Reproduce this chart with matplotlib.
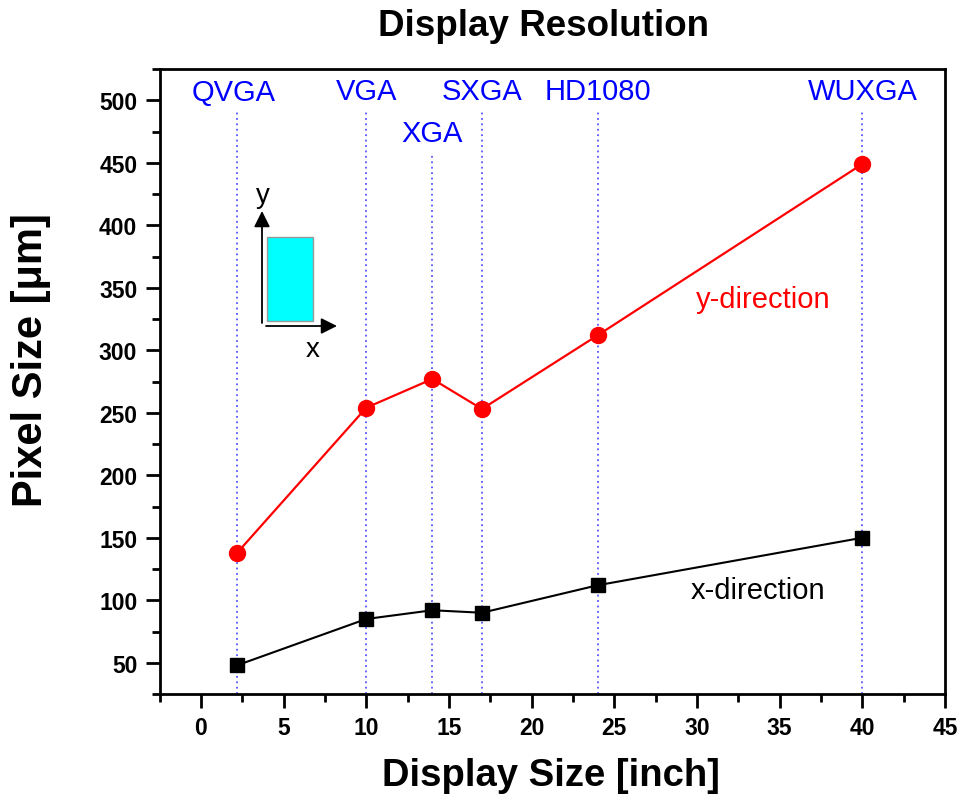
import matplotlib
matplotlib.use("Agg")
import matplotlib.pyplot as plt
from matplotlib.patches import Rectangle
from matplotlib.ticker import MultipleLocator

plt.rcParams['font.family'] = ['Liberation Sans', 'DejaVu Sans']

# Display formats and their typical diagonal sizes
formats = ["QVGA", "VGA", "XGA", "SXGA", "HD1080", "WUXGA"]
display_size = [2.2, 10, 14, 17, 24, 40]
pixel_y = [138, 254, 277, 253, 312, 449]
pixel_x = [48, 85, 92, 90, 112, 150]

W, H = 961, 804
fig = plt.figure(figsize=(W / 100, H / 100), dpi=100)
L, R, T, B = 159.5, 945.0, 70.0, 695.0
ax = fig.add_axes([L / W, (H - B) / H, (R - L) / W, (B - T) / H])

ax.set_xlim(-2.5, 45)
ax.set_ylim(25, 525)

# Vertical guide lines and format names
label_y = [507, 507, 474, 507, 507, 507]
line_top = [492, 492, 458, 492, 492, 492]
for name, xs, ly, lt in zip(formats, display_size, label_y, line_top):
    ax.plot([xs, xs], [25, lt], color='#5555ff', lw=1.3,
            linestyle=(0, (1, 2.0)), zorder=1)
    tx = 2.0 if name == "QVGA" else xs
    ax.text(tx, ly, name, color='#0000ff', fontsize=21,
            ha='center', va='center')

ax.plot(display_size, pixel_y, color='#ff0000', lw=1.6, marker='o',
        markersize=11.5, zorder=3)
ax.plot(display_size, pixel_x, color='black', lw=1.5, marker='s',
        markersize=10, zorder=3)

ax.text(34.0, 341, "y-direction", color='#ff0000', fontsize=21,
        ha='center', va='center')
ax.text(33.7, 108, "x-direction", color='black', fontsize=21,
        ha='center', va='center')

# Pixel geometry sketch
def frac(px, py):
    return ((px - L) / (R - L), (B - py) / (B - T))

x0, y0 = frac(267, 322)
x1, y1 = frac(313, 238)
ax.add_patch(Rectangle((x0, y0), x1 - x0, y1 - y0, transform=ax.transAxes,
                       facecolor='#00ffff', edgecolor='#999999', lw=1, zorder=2))
ax.annotate("", xy=frac(262, 212), xytext=frac(262, 324),
            xycoords='axes fraction', textcoords='axes fraction',
            arrowprops=dict(arrowstyle='-|>', mutation_scale=24, lw=1.3,
                            color='black', shrinkA=0, shrinkB=0))
ax.annotate("", xy=frac(337, 327), xytext=frac(266, 327),
            xycoords='axes fraction', textcoords='axes fraction',
            arrowprops=dict(arrowstyle='-|>', mutation_scale=24, lw=1.3,
                            color='black', shrinkA=0, shrinkB=0))
tx, ty = frac(263, 196)
ax.text(tx, ty, "y", transform=ax.transAxes, fontsize=20,
        ha='center', va='center')
tx, ty = frac(313, 350)
ax.text(tx, ty, "x", transform=ax.transAxes, fontsize=20,
        ha='center', va='center')

# Axes styling
for s in ax.spines.values():
    s.set_linewidth(2.0)
ax.xaxis.set_major_locator(MultipleLocator(5))
ax.xaxis.set_minor_locator(MultipleLocator(2.5))
ax.yaxis.set_minor_locator(MultipleLocator(25))
ax.set_yticks([50, 100, 150, 200, 250, 300, 350, 400, 450, 500])
ax.tick_params(which='both', direction='out', width=2, top=False, right=False)
ax.tick_params(which='major', length=10, labelsize=16.5, pad=6)
ax.tick_params(which='minor', length=6)
for lab in ax.get_xticklabels() + ax.get_yticklabels():
    lab.set_fontweight('bold')

fig.text(551 / W, 1 - 776 / H, "Display Size [inch]", fontsize=27.5,
         fontweight='bold', ha='center', va='center')
fig.text(31 / W, 1 - 360 / H, "Pixel Size [\u03bcm]", fontsize=30,
         fontweight='bold', ha='center', va='center', rotation=90)
fig.text(543 / W, 1 - 27 / H, "Display Resolution",
         fontsize=26.5, fontweight='bold', ha='center', va='center')

fig.savefig("out.png", dpi=100)
